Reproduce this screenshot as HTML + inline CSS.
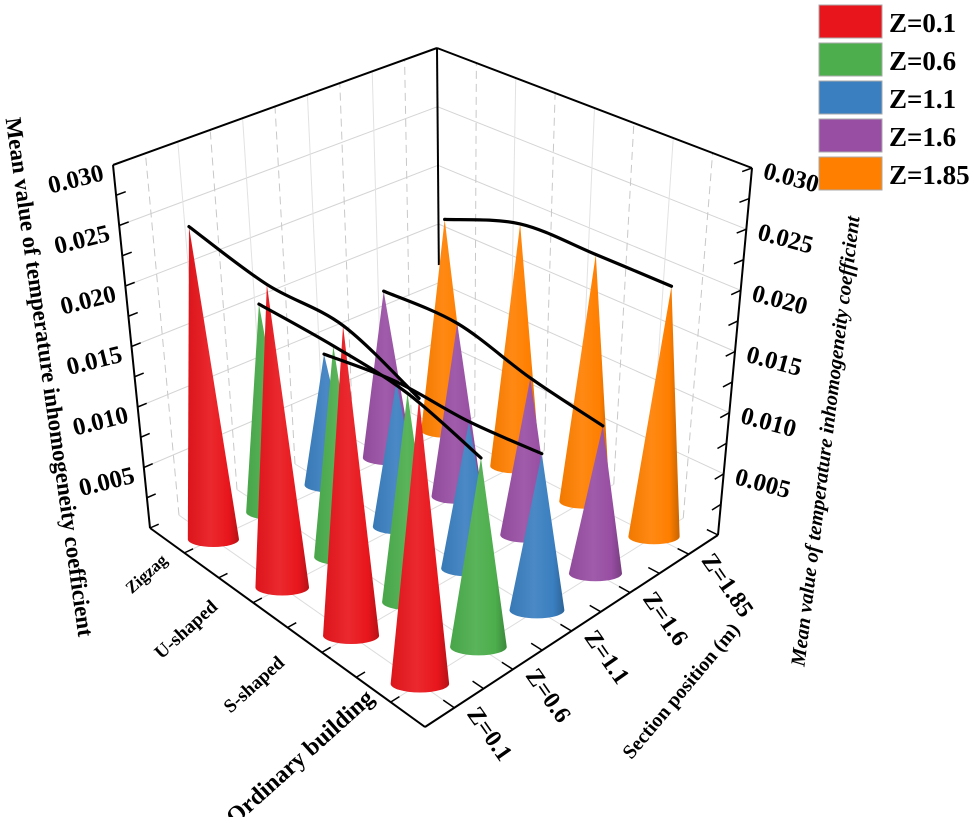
<!DOCTYPE html>
<html><head><meta charset="utf-8"><style>
html,body{margin:0;padding:0;background:#fff;}
svg{display:block;font-family:"Liberation Serif",serif;font-weight:bold;}
</style></head><body>
<svg id="chart" width="975" height="817" viewBox="0 0 975 817" xmlns="http://www.w3.org/2000/svg">
<defs id="defs"></defs>
<g id="walls"></g>
<g id="floor"></g>
<g id="axes"></g>
<g id="cones"></g>
<g id="curves"></g>
<g id="labels"></g>
<text font-size="23" text-anchor="middle" transform="translate(42,378) rotate(82)">Mean value of temperature inhomogeneity coefficient</text>
<text font-size="20.5" font-style="italic" text-anchor="middle" transform="translate(832,442) rotate(-83)">Mean value of temperature inhomogeneity coefficient</text>
<text font-size="20" text-anchor="middle" transform="translate(686,695) rotate(-50)">Section position (m)</text>
<g id="legend"></g>
</svg>
<script>
const buildings = ["Zigzag","U-shaped","S-shaped","Ordinary building"];
const sections = ["Z=0.1","Z=0.6","Z=1.1","Z=1.6","Z=1.85"];
const valsZ01 = [0.0253,0.0234,0.0229,0.0202];
const valsZ06 = [0.0170,0.0166,0.0158,0.0138];
const valsZ11 = [0.0108,0.0116,0.0114,0.0118];
const valsZ16 = [0.0139,0.0141,0.0125,0.0115];
const valsZ185 = [0.0178,0.0201,0.0202,0.0202];
const yTicks = [0.005,0.010,0.015,0.020,0.025,0.030];
const yTickLabels = ["0.005","0.010","0.015","0.020","0.025","0.030"];
const series = [valsZ01,valsZ06,valsZ11,valsZ16,valsZ185];
const colors = ["#e8161c","#4cae4c","#3a7fc0","#984ea3","#ff7f00"];
const YMAX = 0.03;

const NS="http://www.w3.org/2000/svg";
function mk(tag,parent,attrs){const e=document.createElementNS(NS,tag);for(const k in attrs)e.setAttribute(k,attrs[k]);parent.appendChild(e);return e;}

const F0={L:[150,528],F:[425,727],R:[718,535],B:[440,400]};
const T0={L:[113,165],F:[425,287],R:[752,168],B:[437,48]};
function bil(Q,a,b){const lb=[Q.L[0]+b*(Q.B[0]-Q.L[0]),Q.L[1]+b*(Q.B[1]-Q.L[1])];const fr=[Q.F[0]+b*(Q.R[0]-Q.F[0]),Q.F[1]+b*(Q.R[1]-Q.F[1])];return [lb[0]+a*(fr[0]-lb[0]),lb[1]+a*(fr[1]-lb[1])];}
function P(a,b,h){const f=bil(F0,a,b),t=bil(T0,a,b),k=h/YMAX;return [f[0]+k*(t[0]-f[0]),f[1]+k*(t[1]-f[1])];}
function aPos(i){return (i+0.5)/buildings.length;}
function bPos(j){return (j+0.5)/sections.length;}
function line(g,p,q,st,w,dash){const e=mk('line',g,{x1:p[0],y1:p[1],x2:q[0],y2:q[1],stroke:st,'stroke-width':w});if(dash)e.setAttribute('stroke-dasharray',dash);return e;}

const walls=document.getElementById('walls');
yTicks.forEach(v=>{const l=line(walls,P(0,0,v),P(0,1,v),'#d4d4d4',1);


const r=line(walls,P(0,1,v),P(1,1,v),'#d4d4d4',1);

});
sections.forEach((s,j)=>{const l=line(walls,P(0,bPos(j),0),P(0,bPos(j),YMAX),'#c8c8c8',1,'8,5');

});
for(let j=1;j<sections.length;j++){const l=line(walls,P(0,j/sections.length,0),P(0,j/sections.length,YMAX),'#e2e2e2',1);

}
buildings.forEach((s,i)=>{const l=line(walls,P(aPos(i),1,0),P(aPos(i),1,YMAX),'#c8c8c8',1,'8,5');

});
for(let i=1;i<buildings.length;i++){const l=line(walls,P(i/buildings.length,1,0),P(i/buildings.length,1,YMAX),'#e2e2e2',1);

}

const floor=document.getElementById('floor');
buildings.forEach((s,i)=>{const l=line(floor,P(aPos(i),0,0),P(aPos(i),1,0),'#dcdcdc',1);

});
sections.forEach((s,j)=>{const l=line(floor,P(0,bPos(j),0),P(1,bPos(j),0),'#dcdcdc',1);

});

const axes=document.getElementById('axes');
function axl(p,q,name){const l=line(axes,p,q,'#000',2);}
axl(P(0,0,YMAX),P(0,1,YMAX),'top-left-edge');
axl(P(0,1,YMAX),P(1,1,YMAX),'top-right-edge');
axl(P(0,1,0.0115),P(0,1,YMAX),'back-vertical-edge');
axl(P(0,0,0),P(0,0,YMAX),'left-value-axis');
axl(P(1,1,0),P(1,1,YMAX),'right-value-axis');
axl(P(0,0,0),P(1,0,0),'building-axis');
axl(P(1,0,0),P(1,1,0),'section-axis');
for(let k=1;k<=12;k++){const v=k*0.0025;
 const p=P(0,0,v),q=P(0,0.03,v);line(axes,p,q,'#000',1.5);
 const r=P(1,1,v),s=P(1,0.97,v);line(axes,r,s,'#000',1.5);}
for(let k=0;k<=8;k++){const a=k/8;line(axes,P(a,0,0),P(a,0.03,0),'#000',1.5);}
for(let k=0;k<=10;k++){const b=k/10;line(axes,P(1,b,0),P(0.96,b,0),'#000',1.5);}

const defs=document.getElementById('defs');
function shade(hex,f){const n=parseInt(hex.slice(1),16);let r=n>>16,g=(n>>8)&255,b=n&255;
 if(f>0){r+=(255-r)*f;g+=(255-g)*f;b+=(255-b)*f;}else{r*=1+f;g*=1+f;b*=1+f;}
 return 'rgb('+Math.round(r)+','+Math.round(g)+','+Math.round(b)+')';}
colors.forEach((c,j)=>{const lg=mk('linearGradient',defs,{id:'g'+j,x1:'0',x2:'1',y1:'0',y2:'0'});
 [[0,shade(c,-0.05)],[0.45,shade(c,0.08)],[0.8,c],[1,shade(c,-0.22)]].forEach(s=>mk('stop',lg,{offset:s[0],'stop-color':s[1]}));});

const cones=document.getElementById('cones');
const items=[];
series.forEach((vals,j)=>vals.forEach((v,i)=>items.push({i,j,v})));
items.sort((p,q)=>(aPos(p.i)-bPos(p.j))-(aPos(q.i)-bPos(q.j)));
items.forEach(it=>{const a=aPos(it.i),b=bPos(it.j);const c=P(a,b,0),t=P(a,b,it.v),top=P(a,b,YMAX);
 const s=c[1]-top[1];const r=s*0.069,ry=r*0.3;
 const d='M'+t[0]+','+t[1]+' L'+(c[0]-r)+','+c[1]+' A'+r+','+ry+' 0 0 0 '+(c[0]+r)+','+c[1]+' Z';
 const e=mk('path',cones,{d:d,fill:'url(#g'+it.j+')'});
 
 });

const curves=document.getElementById('curves');
series.forEach((vals,j)=>{const pts=vals.map((v,i)=>P(aPos(i),bPos(j),v));
 let d='M'+pts[0][0]+','+pts[0][1];
 for(let k=0;k<pts.length-1;k++){const p0=pts[Math.max(0,k-1)],p1=pts[k],p2=pts[k+1],p3=pts[Math.min(pts.length-1,k+2)];
  const c1=[p1[0]+(p2[0]-p0[0])/6,p1[1]+(p2[1]-p0[1])/6],c2=[p2[0]-(p3[0]-p1[0])/6,p2[1]-(p3[1]-p1[1])/6];
  d+=' C'+c1[0]+','+c1[1]+' '+c2[0]+','+c2[1]+' '+p2[0]+','+p2[1];}
 const e=mk('path',curves,{d:d,fill:'none',stroke:'#000','stroke-width':3.2,'stroke-linecap':'round'});
 
 });

const labels=document.getElementById('labels');
yTicks.forEach((v,k)=>{const p=P(0,0,v);
 const t=mk('text',labels,{x:0,y:0,'font-size':25,'text-anchor':'end',transform:'translate('+(p[0]-8)+','+(p[1]+15)+') rotate(-14)'});
 t.textContent=yTickLabels[k];
 
 
 const q=P(1,1,v);
 const u=mk('text',labels,{x:0,y:0,'font-size':25,'text-anchor':'start',transform:'translate('+(q[0]+10)+','+(q[1]+10)+') rotate(15)'});
 u.textContent=yTickLabels[k];
 
 });
const bCenters=[[150,572],[190,628],[258,683],[305,757]];
const bSizes=[17,19,19,24];
buildings.forEach((s,i)=>{
 const t=mk('text',labels,{x:0,y:0,'font-size':bSizes[i],'text-anchor':'middle',transform:'translate('+bCenters[i][0]+','+(bCenters[i][1]+6)+') rotate(-42)'});
 t.textContent=s;
 
 });
sections.forEach((s,j)=>{const p=P(1,bPos(j),0);
 const t=mk('text',labels,{x:0,y:0,'font-size':24,'text-anchor':'start',transform:'translate('+(p[0]+12)+','+(p[1]+6)+') rotate(55)'});
 t.textContent=s;
 
 });

const legend=document.getElementById('legend');
sections.forEach((s,j)=>{const y=5+j*38;
 const r=mk('rect',legend,{x:819,y:y,width:63,height:33,fill:colors[j],stroke:'#aaa','stroke-width':1});
 
 
 const t=mk('text',legend,{x:889,y:y+27,'font-size':27});
 t.textContent=s;
 
 });
</script>
</body></html>
